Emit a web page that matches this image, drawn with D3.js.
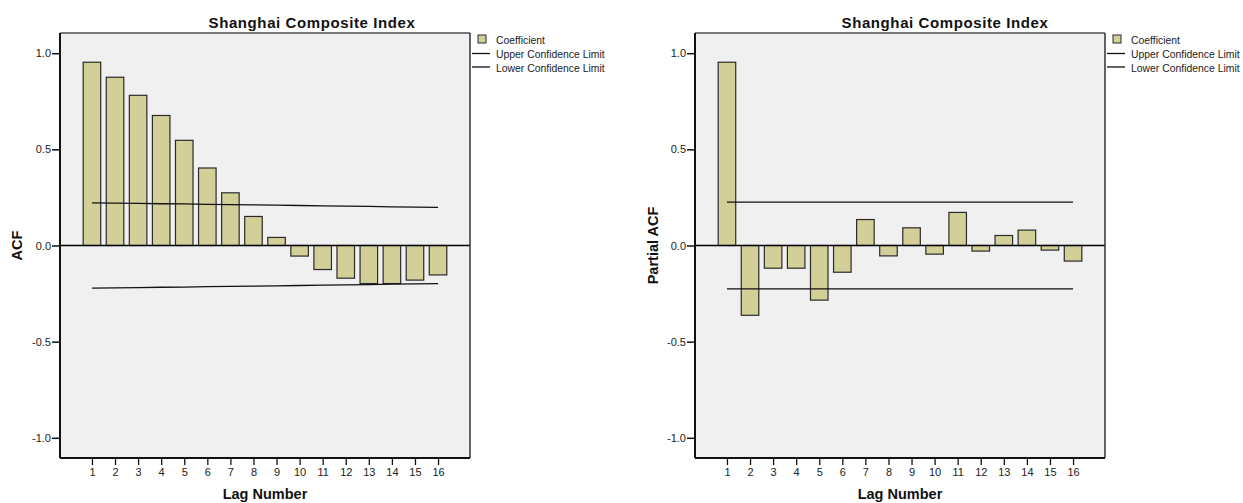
<!DOCTYPE html>
<html>
<head>
<meta charset="utf-8">
<script src="https://cdn.jsdelivr.net/npm/d3@7"></script>
<style>
  html, body { margin: 0; padding: 0; background: #fff; }
  svg { display: block; font-family: Arial, "Liberation Sans", sans-serif; }
</style>
</head>
<body>
<svg id="chart" width="1243" height="503"></svg>
<script>
// ---- data ----
const lags = [1, 2, 3, 4, 5, 6, 7, 8, 9, 10, 11, 12, 13, 14, 15, 16];
const acfValues = [0.953, 0.875, 0.781, 0.676, 0.547, 0.403, 0.274, 0.151, 0.042, -0.055, -0.125, -0.170, -0.198, -0.198, -0.180, -0.153];
const acfUpper = [0.222, 0.220, 0.219, 0.217, 0.216, 0.214, 0.213, 0.211, 0.210, 0.208, 0.206, 0.205, 0.203, 0.201, 0.200, 0.198];
const acfLower = [-0.222, -0.220, -0.219, -0.217, -0.216, -0.214, -0.213, -0.211, -0.210, -0.208, -0.206, -0.205, -0.203, -0.201, -0.200, -0.198];
const pacfValues = [0.953, -0.363, -0.118, -0.118, -0.284, -0.139, 0.135, -0.054, 0.092, -0.045, 0.172, -0.029, 0.052, 0.080, -0.024, -0.081];
const pacfUpper = [0.226, 0.226, 0.226, 0.226, 0.226, 0.226, 0.226, 0.226, 0.226, 0.226, 0.226, 0.226, 0.226, 0.226, 0.226, 0.226];
const pacfLower = [-0.226, -0.226, -0.226, -0.226, -0.226, -0.226, -0.226, -0.226, -0.226, -0.226, -0.226, -0.226, -0.226, -0.226, -0.226, -0.226];
const yTicks = [-1.0, -0.5, 0.0, 0.5, 1.0];
const chartTitle = "Shanghai Composite Index";
const xTitle = "Lag Number";
const legendLabels = ["Coefficient", "Upper Confidence Limit", "Lower Confidence Limit"];

const svg = d3.select("#chart");
const plotTop = 33, plotBottom = 458;
const fmt = d => d3.format(".1f")(d).replace("\u2212", "-");

function panel(opts) {
  const { x0, x1, titleX, yTitleX, yTitle, values, upper, lower } = opts;
  const g = svg.append("g");

  const x = d3.scalePoint().domain(lags).range([x0, x1]).padding(1.385);
  const y = d3.scaleLinear().domain([-1.105, 1.105]).range([plotBottom, plotTop]);
  const bw = x.step() * 0.76;

  // plot background
  g.append("rect").attr("x", x0).attr("y", plotTop).attr("width", x1 - x0).attr("height", plotBottom - plotTop)
    .attr("fill", "#f0f0f0");

  // bars
  g.selectAll("rect.bar").data(lags).enter().append("rect").attr("class", "bar")
    .attr("x", d => x(d) - bw / 2)
    .attr("width", bw)
    .attr("y", (d, i) => y(Math.max(0, values[i])))
    .attr("height", (d, i) => Math.abs(y(values[i]) - y(0)))
    .attr("fill", "#d3cf98")
    .attr("stroke", "#2a2a2a")
    .attr("stroke-width", 1.2);

  // confidence limits
  const line = d3.line().x((d, i) => x(lags[i])).y(d => y(d));
  [upper, lower].forEach(arr => {
    g.append("path").datum(arr).attr("d", line)
      .attr("fill", "none").attr("stroke", "#111").attr("stroke-width", 1.3);
  });

  // zero line
  g.append("line").attr("x1", x0).attr("x2", x1).attr("y1", y(0)).attr("y2", y(0))
    .attr("stroke", "#000").attr("stroke-width", 1.5);

  // frame
  g.append("line").attr("x1", x0).attr("x2", x1).attr("y1", plotTop).attr("y2", plotTop)
    .attr("stroke", "#777").attr("stroke-width", 2);
  g.append("line").attr("x1", x1).attr("x2", x1).attr("y1", plotTop).attr("y2", plotBottom)
    .attr("stroke", "#333").attr("stroke-width", 1.5);
  g.append("line").attr("x1", x0).attr("x2", x0).attr("y1", plotTop).attr("y2", plotBottom)
    .attr("stroke", "#111").attr("stroke-width", 2);
  g.append("line").attr("x1", x0).attr("x2", x1).attr("y1", plotBottom).attr("y2", plotBottom)
    .attr("stroke", "#111").attr("stroke-width", 2);

  // y axis
  const yAxis = d3.axisLeft(y).tickValues(yTicks).tickFormat(fmt).tickSizeOuter(0).tickSize(7).tickPadding(1);
  const ya = g.append("g").attr("transform", `translate(${x0 - 1},0)`).call(yAxis);
  ya.select(".domain").remove();
  ya.selectAll("line").attr("stroke", "#111").attr("stroke-width", 1.5);
  ya.selectAll("text").attr("font-size", 11).attr("fill", "#222")
    .attr("font-family", "Arial, 'Liberation Sans', sans-serif");

  // x axis
  const xAxis = d3.axisBottom(x).tickSizeOuter(0).tickSize(6).tickPadding(3);
  const xa = g.append("g").attr("transform", `translate(0,${plotBottom + 1})`).call(xAxis);
  xa.select(".domain").remove();
  xa.selectAll("line").attr("stroke", "#111").attr("stroke-width", 1.3);
  xa.selectAll("text").attr("font-size", 11).attr("fill", "#222")
    .attr("font-family", "Arial, 'Liberation Sans', sans-serif");

  // titles
  g.append("text").attr("x", titleX).attr("y", 28).attr("text-anchor", "middle")
    .attr("font-size", 15).attr("letter-spacing", 0.6).attr("font-weight", "bold").attr("fill", "#111").text(chartTitle);
  g.append("text").attr("x", (x0 + x1) / 2).attr("y", 499).attr("text-anchor", "middle")
    .attr("font-size", 14.5).attr("font-weight", "bold").attr("fill", "#111").text(xTitle);
  g.append("text").attr("transform", `translate(${yTitleX},${(plotTop + plotBottom) / 2}) rotate(-90)`)
    .attr("text-anchor", "middle").attr("dy", "0.35em")
    .attr("font-size", 14.5).attr("font-weight", "bold").attr("fill", "#111").text(yTitle);

  // legend
  const lx = x1;
  const lg = g.append("g");
  lg.append("rect").attr("x", lx + 8).attr("y", 35).attr("width", 8).attr("height", 8)
    .attr("fill", "#d3cf98").attr("stroke", "#2a2a2a").attr("stroke-width", 1);
  lg.append("line").attr("x1", lx + 2).attr("x2", lx + 20).attr("y1", 53.5).attr("y2", 53.5)
    .attr("stroke", "#111").attr("stroke-width", 1.3);
  lg.append("line").attr("x1", lx + 2).attr("x2", lx + 20).attr("y1", 67).attr("y2", 67)
    .attr("stroke", "#111").attr("stroke-width", 1.3);
  [40, 54, 68].forEach((yy, i) => {
    lg.append("text").attr("x", lx + 26).attr("y", yy).attr("dy", "0.35em")
      .attr("font-size", 10.4).attr("fill", "#222").text(legendLabels[i]);
  });
}

panel({ x0: 60, x1: 470, titleX: 312, yTitleX: 17, yTitle: "ACF",
        values: acfValues, upper: acfUpper, lower: acfLower });
panel({ x0: 695, x1: 1105, titleX: 945, yTitleX: 653, yTitle: "Partial ACF",
        values: pacfValues, upper: pacfUpper, lower: pacfLower });
</script>
</body>
</html>
